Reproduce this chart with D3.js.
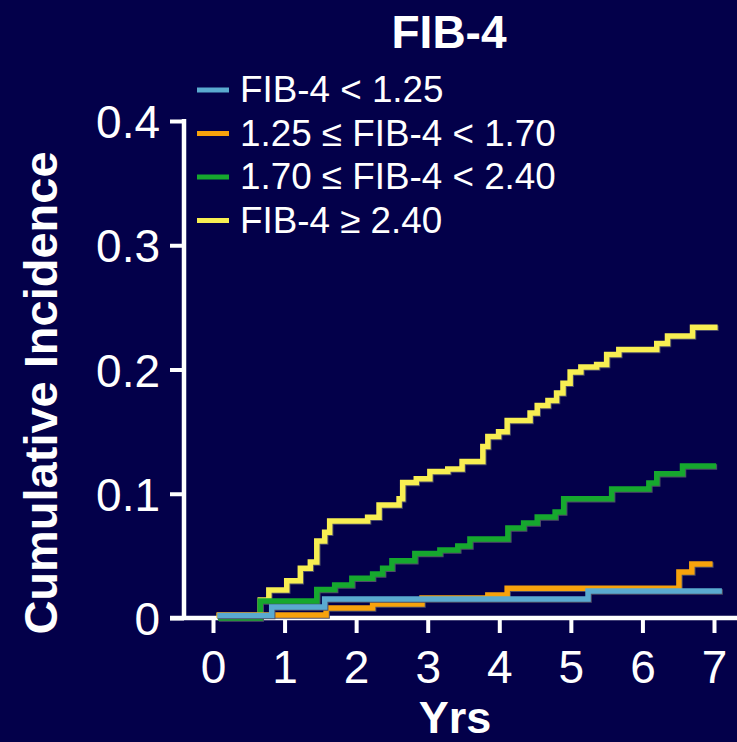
<!DOCTYPE html>
<html>
<head>
<meta charset="utf-8">
<script src="https://cdn.jsdelivr.net/npm/d3@7"></script>
<style>
  html, body { margin: 0; padding: 0; background: #03004a; }
  svg { display: block; }
  text { font-family: "Liberation Sans", Arial, Helvetica, sans-serif; fill: #ffffff; }
</style>
</head>
<body>
<svg id="chart" width="737" height="742"></svg>
<script>
// ---- Data (years, cumulative incidence) ----
const seriesNames = ["FIB-4 < 1.25", "1.25 ≤ FIB-4 < 1.70", "1.70 ≤ FIB-4 < 2.40", "FIB-4 ≥ 2.40"];
const seriesColors = ["#5aaad0", "#f7a20c", "#16a82e", "#f8ef52"];

const lowTimes   = [0.06, 0.82, 1.56, 5.24, 7.11];
const lowValues  = [0.002, 0.0089, 0.0153, 0.0217, 0.0217];

const midLowTimes  = [0.05, 1.58, 2.23, 2.92, 3.84, 4.11, 6.51, 6.69, 6.98];
const midLowValues = [0.0024, 0.008, 0.0113, 0.016, 0.0185, 0.024, 0.037, 0.0435, 0.0435];

const midHighTimes  = [0.07, 0.66, 1.45, 1.70, 1.94, 2.23, 2.37, 2.50, 2.82, 3.17, 3.42, 3.59, 4.12, 4.34, 4.53, 4.78, 4.90, 5.57, 6.09, 6.20, 6.56, 7.03];
const midHighValues = [0, 0.0137, 0.023, 0.0266, 0.032, 0.0354, 0.040, 0.046, 0.052, 0.0547, 0.058, 0.0636, 0.0724, 0.0765, 0.0813, 0.0853, 0.096, 0.1038, 0.1087, 0.116, 0.1223, 0.1223];

const highTimes  = [0.05, 0.66, 0.78, 1.03, 1.22, 1.36, 1.45, 1.56, 1.63, 2.16, 2.32, 2.60, 2.65, 2.84, 3.03, 3.28, 3.48, 3.77, 3.84, 3.99, 4.11, 4.43, 4.53, 4.68, 4.80, 4.89, 4.99, 5.14, 5.36, 5.50, 5.67, 6.20, 6.35, 6.70, 7.05];
const highValues = [0.002, 0.0145, 0.0225, 0.030, 0.040, 0.045, 0.062, 0.069, 0.078, 0.081, 0.091, 0.096, 0.109, 0.112, 0.118, 0.120, 0.126, 0.138, 0.146, 0.150, 0.159, 0.165, 0.171, 0.175, 0.181, 0.189, 0.198, 0.202, 0.204, 0.212, 0.216, 0.221, 0.227, 0.234, 0.234];

const xTicks = [0, 1, 2, 3, 4, 5, 6, 7];
const yTicks = [0, 0.1, 0.2, 0.3, 0.4];
const xTickLabels = ["0", "1", "2", "3", "4", "5", "6", "7"];
const yTickLabels = ["0", "0.1", "0.2", "0.3", "0.4"];

const titleText = "FIB-4";
const xTitle = "Yrs";
const yTitle = "Cumulative Incidence";

// ---- Build ----
const svg = d3.select("#chart");
const W = 737, H = 742;
svg.append("rect").attr("width", W).attr("height", H).attr("fill", "#03004a");

const x = d3.scaleLinear().domain([0, 7]).range([213, 714]);
const y = d3.scaleLinear().domain([0, 0.4]).range([618, 121]);

// x axis
const xAxis = d3.axisBottom(x)
  .tickValues(xTicks)
  .tickFormat((d, i) => xTickLabels[i])
  .tickSize(15).tickSizeOuter(0).tickPadding(17);
const gx = svg.append("g").attr("transform", `translate(0,${y(0)})`).call(xAxis);
gx.select(".domain").remove();
gx.selectAll(".tick line").attr("stroke", "#fff").attr("stroke-width", 4);
gx.selectAll(".tick text").attr("font-size", 46).attr("fill", "#fff")
  .attr("font-family", "Liberation Sans, Arial, sans-serif");
gx.append("line").attr("x1", 170).attr("x2", W).attr("y1", 0).attr("y2", 0)
  .attr("stroke", "#fff").attr("stroke-width", 4.5);

// y axis
const yAxis = d3.axisLeft(y)
  .tickValues(yTicks)
  .tickFormat((d, i) => yTickLabels[i])
  .tickSize(14).tickSizeOuter(0).tickPadding(10);
const gy = svg.append("g").attr("transform", `translate(184,0)`).call(yAxis);
gy.select(".domain").attr("stroke", "#fff").attr("stroke-width", 4.5)
  .attr("d", `M0,${y(0.4) - 2}V${y(0) + 2}`);
gy.selectAll(".tick line").attr("stroke", "#fff").attr("stroke-width", 4);
gy.selectAll(".tick text").attr("font-size", 46).attr("fill", "#fff")
  .attr("font-family", "Liberation Sans, Arial, sans-serif").attr("dy", "0.36em");

// curves
const series = [
  { name: seriesNames[3], color: seriesColors[3], t: highTimes, v: highValues },
  { name: seriesNames[2], color: seriesColors[2], t: midHighTimes, v: midHighValues },
  { name: seriesNames[1], color: seriesColors[1], t: midLowTimes, v: midLowValues },
  { name: seriesNames[0], color: seriesColors[0], t: lowTimes, v: lowValues }
];
const line = d3.line().x(d => x(d[0])).y(d => y(d[1])).curve(d3.curveStepAfter);
series.forEach(s => {
  const pts = s.t.map((t, i) => [t, s.v[i]]);
  svg.append("path").attr("d", line(pts)).attr("fill", "none")
    .attr("stroke", "#4e4e66").attr("stroke-width", 5.5)
    .attr("transform", "translate(1,1)");
  svg.append("path").attr("d", line(pts)).attr("fill", "none")
    .attr("stroke", s.color).attr("stroke-width", 5.5);
});

// legend
const legend = svg.append("g");
const legendOrder = [0, 1, 2, 3];
legendOrder.forEach((k, i) => {
  const cy = 90 + i * 43.5;
  legend.append("line").attr("x1", 197).attr("x2", 229).attr("y1", cy).attr("y2", cy)
    .attr("stroke", seriesColors[k]).attr("stroke-width", 5);
  legend.append("text").attr("x", 240).attr("y", cy + 12)
    .attr("font-size", 36.8).text(seriesNames[k]);
});

// titles
svg.append("text").attr("x", 449).attr("y", 48).attr("text-anchor", "middle")
  .attr("font-size", 46).attr("font-weight", "bold").text(titleText);
svg.append("text").attr("x", 455).attr("y", 733).attr("text-anchor", "middle")
  .attr("font-size", 45).attr("font-weight", "bold").text(xTitle);
svg.append("text").attr("transform", "translate(57,393) rotate(-90)").attr("text-anchor", "middle")
  .attr("font-size", 47).attr("font-weight", "bold").text(yTitle);
</script>
</body>
</html>
